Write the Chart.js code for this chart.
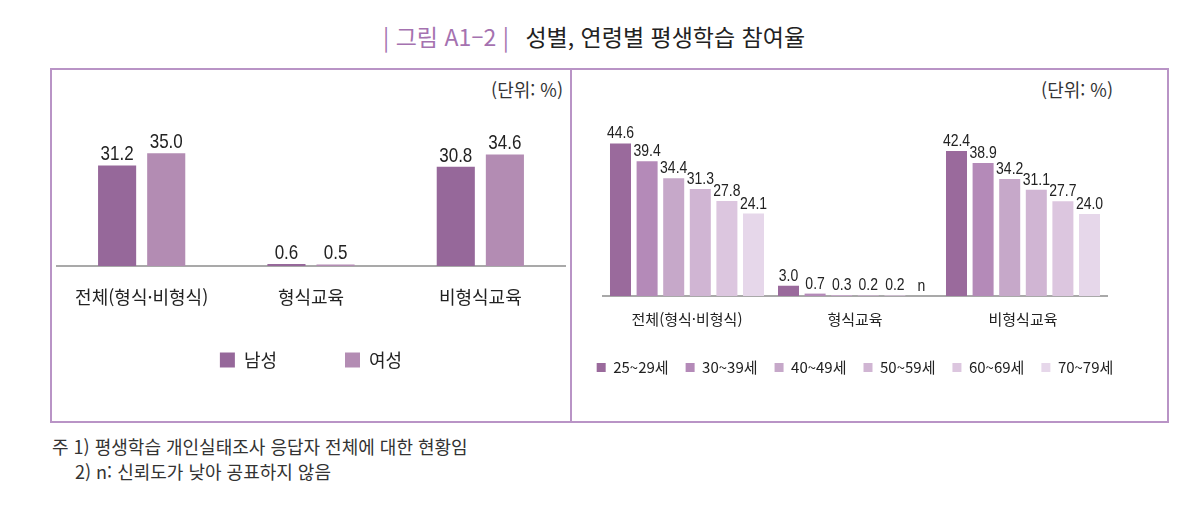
<!DOCTYPE html>
<html lang="ko">
<head>
<meta charset="utf-8">
<title>성별, 연령별 평생학습 참여율</title>
<script src="https://cdn.jsdelivr.net/npm/chart.js@4.4.1/dist/chart.umd.min.js"></script>
<style>
  body { margin: 0; background: #fff; width: 1194px; height: 519px; position: relative; overflow: hidden;
         font-family: "Noto Sans CJK KR", "Noto Sans", sans-serif; color: #222; }
  #title { position: absolute; top: 21px; left: 383px; font-size: 23px; line-height: 30px; white-space: nowrap; }
  #title .tag { color: #a572b0; margin-right: 10px; }
  #box { position: absolute; left: 50px; top: 68px; width: 1115px; height: 351px;
         border: 2px solid #b994c6; }
  #divider { position: absolute; left: 570px; top: 68px; width: 2px; height: 353px; background: #b994c6; }
  .unit { position: absolute; top: 77px; font-size: 18px; line-height: 24px; color: #333; }
  .wrap { position: absolute; top: 70px; }
  .note { position: absolute; left: 52px; font-size: 18px; line-height: 24px; color: #333; white-space: nowrap; }
</style>
</head>
<body>
<div id="title"><span class="tag">|&nbsp;그림 A1–2&nbsp;|</span> 성별, 연령별 평생학습 참여율</div>
<div id="box"></div>
<div id="divider"></div>
<div class="unit" style="right:631px">(단위: %)</div>
<div class="unit" style="right:81px">(단위: %)</div>
<div class="note" style="top:434px">주 1) 평생학습 개인실태조사 응답자 전체에 대한 현황임</div>
<div class="note" style="top:459px;left:75px">2) n: 신뢰도가 낮아 공표하지 않음</div>
<div class="wrap" style="left:52px;width:518px;height:340px"><canvas id="sexChart"></canvas></div>
<div class="wrap" style="left:573px;width:564px;height:318px"><canvas id="ageChart"></canvas></div>

<script>
// 데이터
const categories = ['전체(형식·비형식)', '형식교육', '비형식교육'];

const sexLabels = ['남성', '여성'];
const male = [31.2, 0.6, 30.8];
const female = [35.0, 0.5, 34.6];

const ageLabels = ['25~29세', '30~39세', '40~49세', '50~59세', '60~69세', '70~79세'];
const age25 = [44.6, 3.0, 42.4];
const age30 = [39.4, 0.7, 38.9];
const age40 = [34.4, 0.3, 34.2];
const age50 = [31.3, 0.2, 31.1];
const age60 = [27.8, 0.2, 27.7];
const age70 = [24.1, null, 24.0];   // null = n (공표하지 않음)

const sexColors = ['#96689a', '#b38cb3'];
const ageColors = ['#9a6a9c', '#b48ab8', '#c6a8c9', '#d0b5d3', '#dcc6df', '#e6d7ea'];

// 막대 위에 값 표시 (글자를 세로로 약간 늘림)
const valueLabels = {
    id: 'valueLabels',
    afterDatasetsDraw(chart, args, opts) {
        const ctx = chart.ctx;
        const base = chart.scales.y.getPixelForValue(0);
        chart.data.datasets.forEach((ds, i) => {
            chart.getDatasetMeta(i).data.forEach((bar, j) => {
                const v = ds.data[j];
                const text = v === null ? 'n' : v.toFixed(1);
                const y = v === null ? base - 5 : bar.y - 5;
                ctx.save();
                ctx.font = opts.font;
                ctx.fillStyle = '#222';
                ctx.textAlign = 'center';
                ctx.textBaseline = 'alphabetic';
                ctx.translate(bar.x, y);
                ctx.scale(1, opts.stretch);
                ctx.fillText(text, 0, 0);
                ctx.restore();
            });
        });
    }
};

// 범례를 위로 조금 올림 (padding이 가로 간격과 세로 위치를 같이 정하므로)
const legendShift = {
    id: 'legendShift',
    afterLayout(chart, args, opts) {
        if (chart.legend && opts.dy) {
            chart.legend.top += opts.dy;
            chart.legend.bottom += opts.dy;
        }
    }
};

// 빈 축으로 좌우 여백 고정
function sideAxis(pos, w) {
    return {
        position: pos, display: true, min: 0,
        ticks: { display: false }, grid: { display: false }, border: { display: false },
        afterFit(s) { s.width = w; }
    };
}

function makeOptions(cfg) {
    const y = sideAxis('left', cfg.sideL);
    y.max = cfg.yMax;
    return {
        responsive: true,
        maintainAspectRatio: false,
        animation: false,
        layout: { padding: { top: cfg.top, bottom: cfg.bottom, left: 0, right: 0 } },
        scales: {
            x: {
                grid: { display: false, drawTicks: false },
                border: { display: true, color: '#a9a9a9', width: 2 },
                ticks: { color: '#222', font: { family: 'Noto Sans CJK KR', size: cfg.tickSize }, padding: cfg.tickPad },
                afterFit(s) { s.height = cfg.axisH; }
            },
            y: y,
            y2: sideAxis('right', cfg.sideR)
        },
        plugins: {
            legend: {
                position: 'bottom',
                labels: {
                    color: '#222',
                    font: { family: 'Noto Sans CJK KR', size: cfg.legendSize },
                    boxWidth: cfg.box,
                    boxHeight: cfg.box,
                    padding: cfg.legendPad
                }
            },
            tooltip: { enabled: false },
            valueLabels: { font: cfg.valueFont, stretch: cfg.stretch },
            legendShift: { dy: cfg.legendDy }
        }
    };
}

// 성별 차트
new Chart(document.getElementById('sexChart'), {
    type: 'bar',
    data: {
        labels: categories,
        datasets: sexLabels.map((name, i) => ({
            label: name,
            data: [male, female][i],
            backgroundColor: sexColors[i],
            categoryPercentage: 0.58,
            barPercentage: 0.776
        }))
    },
    options: makeOptions({
        top: 67, bottom: 6, sideL: 5, sideR: 5, yMax: 40,
        tickSize: 18, tickPad: 20, axisH: 42,
        legendSize: 18, box: 15, legendPad: 68, legendDy: -25,
        valueFont: '17px "Liberation Sans", Arial, sans-serif', stretch: 1.2
    }),
    plugins: [valueLabels, legendShift]
});

// 연령별 차트
const ageData = [age25, age30, age40, age50, age60, age70];
new Chart(document.getElementById('ageChart'), {
    type: 'bar',
    data: {
        labels: categories,
        datasets: ageData.map((d, i) => ({
            label: ageLabels[i],
            data: d,
            backgroundColor: ageColors[i],
            categoryPercentage: 0.95,
            barPercentage: 0.79
        }))
    },
    options: makeOptions({
        top: 55, bottom: 3, sideL: 30, sideR: 30, yMax: 50,
        tickSize: 15, tickPad: 14, axisH: 47,
        legendSize: 15, box: 9, legendPad: 17, legendDy: 0,
        valueFont: '14px "Liberation Sans", Arial, sans-serif', stretch: 1.22
    }),
    plugins: [valueLabels, legendShift]
});
</script>
</body>
</html>
